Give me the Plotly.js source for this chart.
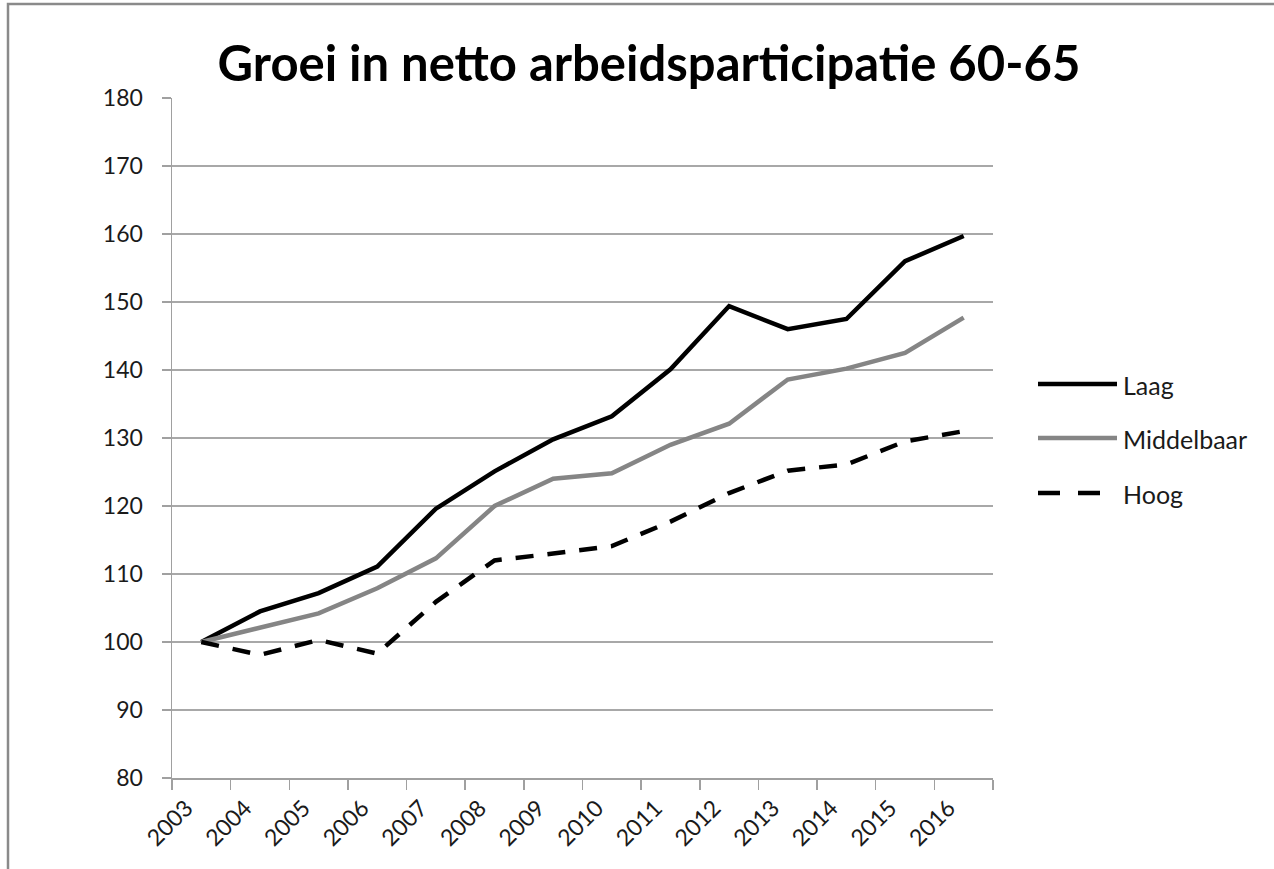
<!DOCTYPE html>
<html>
<head>
<meta charset="utf-8">
<script src="https://cdn.plot.ly/plotly-3.0.1.min.js"></script>
<style>html,body{margin:0;padding:0;background:#fff;}#chart{width:1274px;height:869px;}</style>
</head>
<body>
<div id="chart"></div>
<script>
const years = ["2003","2004","2005","2006","2007","2008","2009","2010","2011","2012","2013","2014","2015","2016"];
const laag = [100, 104.5, 107.2, 111.1, 119.6, 125.1, 129.8, 133.2, 140.1, 149.4, 146.0, 147.5, 156.0, 159.7];
const middelbaar = [100, 102.1, 104.2, 107.9, 112.3, 120.0, 124.0, 124.8, 129.0, 132.1, 138.6, 140.2, 142.5, 147.7];
const hoog = [100, 98.1, 100.3, 98.3, 105.9, 112.0, 113.0, 114.1, 117.7, 121.9, 125.2, 126.1, 129.5, 131.0];
const seriesNames = ["Laag", "Middelbaar", "Hoog"];
const yTicks = [80, 90, 100, 110, 120, 130, 140, 150, 160, 170, 180];

const FONT = "Lato, 'Open Sans', sans-serif";
const styles = [
  {color: "#000000", width: 4.5, dash: "solid"},
  {color: "#858585", width: 4.5, dash: "solid"},
  {color: "#000000", width: 4.5, dash: "18px,14px"}
];
const allSeries = [laag, middelbaar, hoog];

const traces = allSeries.map((vals, i) => ({
  x: years, y: vals, type: "scatter", mode: "lines", name: seriesNames[i],
  line: {color: styles[i].color, width: styles[i].width, dash: styles[i].dash},
  showlegend: false
}));

// plot area in pixels: x 172..993, y 98..778
const L = 172, R = 993, T = 98, B = 778;
const px = v => (v - L) / (R - L);
const py = v => (B - v) / (B - T);

const legendY = [384, 438, 493];
const shapes = [];
const annotations = [];
seriesNames.forEach((n, i) => {
  shapes.push({type: "line", xref: "paper", yref: "paper",
    x0: px(1038), x1: px(1117), y0: py(legendY[i]), y1: py(legendY[i]),
    line: {color: styles[i].color, width: styles[i].width, dash: i === 2 ? "22px,18px" : "solid"}});
  annotations.push({xref: "paper", yref: "paper", x: px(1121), y: py(legendY[i] + 1),
    xanchor: "left", yanchor: "middle", text: n, showarrow: false,
    font: {family: FONT, size: 25, color: "#1a1a1a"}});
});
// outer frame (top and left edges visible)
shapes.push({type: "rect", xref: "paper", yref: "paper", layer: "above",
  x0: px(8), x1: px(1300), y0: py(4), y1: py(900),
  line: {color: "#8a8a8a", width: 2.5}, fillcolor: "rgba(0,0,0,0)"});

const layout = {
  width: 1274, height: 869,
  paper_bgcolor: "#ffffff", plot_bgcolor: "#ffffff",
  margin: {l: L, r: 1274 - R, t: T, b: 869 - B, pad: 0},
  title: {text: "Groei in netto arbeidsparticipatie 60-65", x: 0.5094, xanchor: "center",
    y: 1 - 64/869, yanchor: "middle", yref: "container",
    font: {family: FONT, size: 49, color: "#000000", weight: "bold"}},
  xaxis: {type: "category", range: [-0.5, 13.5], tickson: "boundaries",
    ticks: "outside", ticklen: 10, tickwidth: 1.5, tickcolor: "#a0a0a0",
    showgrid: false, showline: true, linecolor: "#a0a0a0", linewidth: 1.5,
    tickangle: -45, tickfont: {family: FONT, size: 23, color: "#1a1a1a"},
    ticklabelshift: -15, ticklabelstandoff: 6,
    zeroline: false, fixedrange: true},
  yaxis: {range: [80, 180], tickvals: yTicks, ticktext: yTicks.map(String),
    ticks: "outside", ticklen: 9, tickwidth: 1.5, tickcolor: "#a0a0a0",
    showgrid: true, gridcolor: "#a8a8a8", gridwidth: 1.5,
    showline: true, linecolor: "#a0a0a0", linewidth: 1.5,
    tickfont: {family: FONT, size: 23, color: "#1a1a1a"},
    ticklabelstandoff: 14, zeroline: false, fixedrange: true},
  shapes: shapes, annotations: annotations, showlegend: false
};

Plotly.newPlot("chart", traces, layout, {displayModeBar: false, staticPlot: true});
</script>
</body>
</html>
